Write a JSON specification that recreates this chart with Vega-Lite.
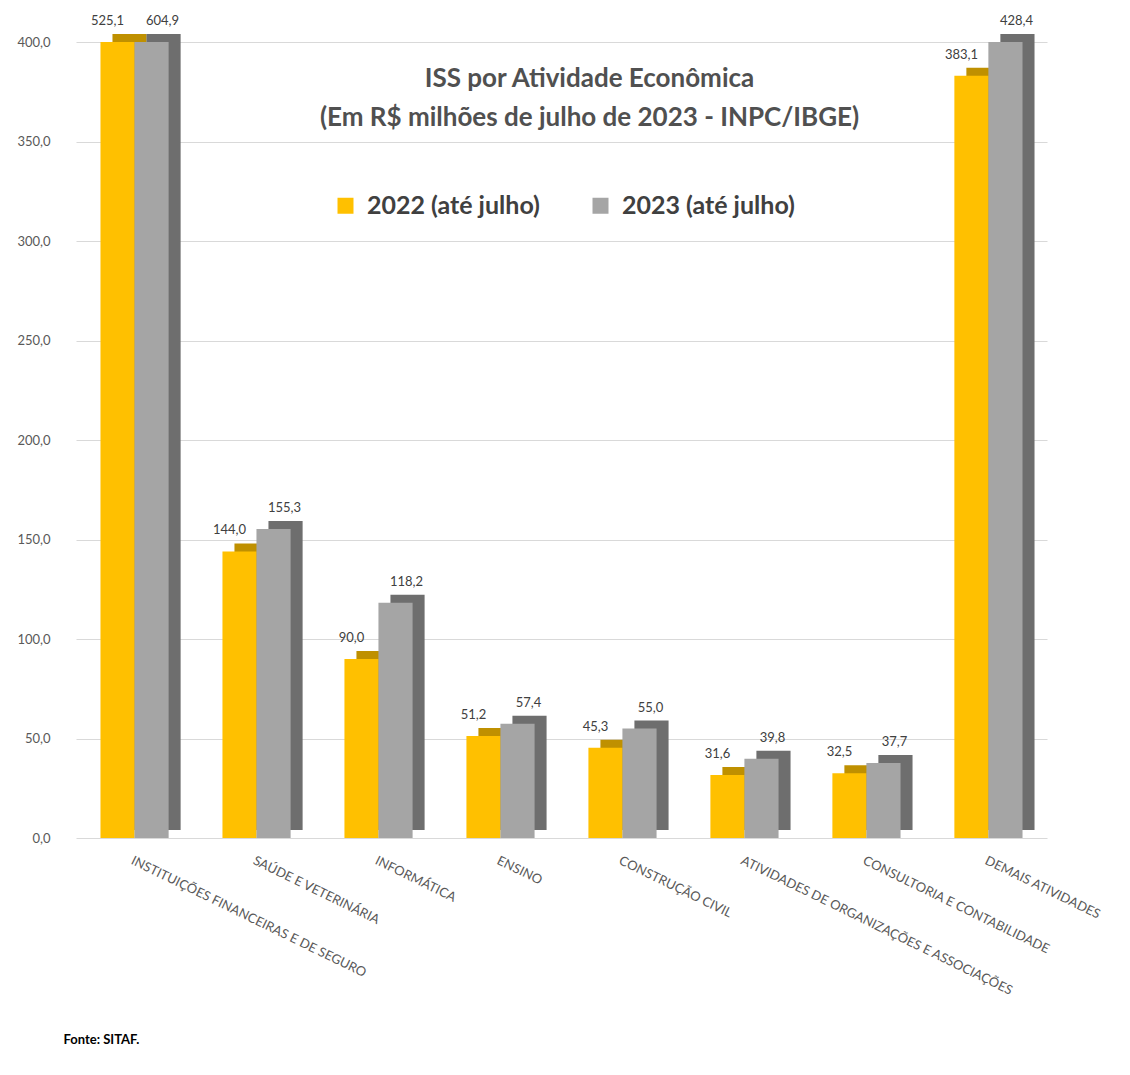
{
  "$schema": "https://vega.github.io/schema/vega-lite/v6.json",
  "autosize": {"type": "none"},
  "padding": {"left": 76, "top": 42, "right": 83, "bottom": 237},
  "width": 971,
  "height": 796,
  "background": "white",
  "config": {
    "locale": {"number": {"decimal": ",", "thousands": ".", "grouping": [3], "currency": ["R$ ", ""]}},
    "font": "Lato",
    "view": {"stroke": null}
  },
  "title": {
    "text": ["ISS por Atividade Econômica", "(Em R$ milhões de julho de 2023 - INPC/IBGE)"],
    "orient": "top",
    "anchor": "middle",
    "frame": "group",
    "dx": 28,
    "offset": -116,
    "fontSize": 26,
    "lineHeight": 39,
    "font": "Lato",
    "fontWeight": "bold",
    "color": "#505050"
  },
  "data": {
    "values": [
      {"atividade": "INSTITUIÇÕES FINANCEIRAS E DE SEGURO", "ano": "2022 (até julho)", "valor": 525.1},
      {"atividade": "INSTITUIÇÕES FINANCEIRAS E DE SEGURO", "ano": "2023 (até julho)", "valor": 604.9},
      {"atividade": "SAÚDE E VETERINÁRIA", "ano": "2022 (até julho)", "valor": 144.0},
      {"atividade": "SAÚDE E VETERINÁRIA", "ano": "2023 (até julho)", "valor": 155.3},
      {"atividade": "INFORMÁTICA", "ano": "2022 (até julho)", "valor": 90.0},
      {"atividade": "INFORMÁTICA", "ano": "2023 (até julho)", "valor": 118.2},
      {"atividade": "ENSINO", "ano": "2022 (até julho)", "valor": 51.2},
      {"atividade": "ENSINO", "ano": "2023 (até julho)", "valor": 57.4},
      {"atividade": "CONSTRUÇÃO CIVIL", "ano": "2022 (até julho)", "valor": 45.3},
      {"atividade": "CONSTRUÇÃO CIVIL", "ano": "2023 (até julho)", "valor": 55.0},
      {"atividade": "ATIVIDADES DE ORGANIZAÇÕES E ASSOCIAÇÕES", "ano": "2022 (até julho)", "valor": 31.6},
      {"atividade": "ATIVIDADES DE ORGANIZAÇÕES E ASSOCIAÇÕES", "ano": "2023 (até julho)", "valor": 39.8},
      {"atividade": "CONSULTORIA E CONTABILIDADE", "ano": "2022 (até julho)", "valor": 32.5},
      {"atividade": "CONSULTORIA E CONTABILIDADE", "ano": "2023 (até julho)", "valor": 37.7},
      {"atividade": "DEMAIS ATIVIDADES", "ano": "2022 (até julho)", "valor": 383.1},
      {"atividade": "DEMAIS ATIVIDADES", "ano": "2023 (até julho)", "valor": 428.4}
    ]
  },
  "encoding": {
    "x": {
      "field": "atividade",
      "type": "nominal",
      "sort": null,
      "scale": {"paddingInner": 0.44, "paddingOuter": 0.2},
      "axis": {
        "title": "Fonte: SITAF.",
        "titleAnchor": "start",
        "titleAlign": "left",
        "titleBaseline": "top",
        "titleX": -13,
        "titleY": 195,
        "titleFontSize": 13,
        "titleFontWeight": "bold",
        "titleColor": "#000000",
        "titleFont": "Lato",
        "labelAngle": 26,
        "labelAlign": "left",
        "labelBaseline": "top",
        "labelPadding": 16,
        "labelDx": -6,
        "labelFontSize": 13,
        "labelColor": "#595959",
        "labelLimit": 500,
        "labelOverlap": false,
        "domain": false,
        "ticks": false
      }
    },
    "y": {
      "field": "valor",
      "type": "quantitative",
      "scale": {"domain": [0, 400], "clamp": true, "nice": false},
      "axis": {
        "title": null,
        "values": [0, 50, 100, 150, 200, 250, 300, 350, 400],
        "format": ".1f",
        "labelFontSize": 13,
        "labelColor": "#595959",
        "labelPadding": 26,
        "domain": false,
        "ticks": false,
        "gridColor": "#d9d9d9",
        "gridWidth": 1
      }
    }
  },
  "layer": [
    {
      "transform": [{"filter": "datum.ano === '2022 (até julho)'"}],
      "mark": {"type": "bar", "color": "#BF9000", "width": {"band": 0.5}, "xOffset": -5, "x2Offset": -5, "yOffset": -8, "y2Offset": -8, "clip": false}
    },
    {
      "transform": [{"filter": "datum.ano === '2023 (até julho)'"}],
      "mark": {"type": "bar", "color": "#6E6E6E", "width": {"band": 0.5}, "xOffset": 29, "x2Offset": 29, "yOffset": -8, "y2Offset": -8, "clip": false}
    },
    {
      "transform": [{"filter": "datum.ano === '2022 (até julho)'"}],
      "mark": {"type": "bar", "width": {"band": 0.5}, "xOffset": -17, "x2Offset": -17},
      "encoding": {
        "color": {
          "field": "ano",
          "type": "nominal",
          "scale": {"domain": ["2022 (até julho)", "2023 (até julho)"], "range": ["#FFC000", "#A5A5A5"]},
          "legend": {
            "title": null,
            "orient": "none",
            "legendX": 257,
            "legendY": 151,
            "direction": "horizontal",
            "symbolType": "square",
            "symbolSize": 256,
            "symbolStrokeWidth": 0,
            "labelFontSize": 25,
            "labelFont": "Lato",
            "labelFontWeight": "bold",
            "labelColor": "#404040",
            "labelOffset": 9,
            "labelLimit": 400,
            "columnPadding": 48
          }
        }
      }
    },
    {
      "transform": [{"filter": "datum.ano === '2023 (até julho)'"}],
      "mark": {"type": "bar", "width": {"band": 0.5}, "xOffset": 17, "x2Offset": 17},
      "encoding": {
        "color": {"field": "ano", "type": "nominal"}
      }
    },
    {
      "transform": [{"filter": "datum.ano === '2022 (até julho)'"}],
      "mark": {"type": "text", "baseline": "bottom", "dy": -14, "dx": -27, "fontSize": 13, "color": "#404040"},
      "encoding": {"text": {"field": "valor", "type": "quantitative", "format": ".1f"}}
    },
    {
      "transform": [{"filter": "datum.ano === '2023 (até julho)'"}],
      "mark": {"type": "text", "baseline": "bottom", "dy": -14, "dx": 28, "fontSize": 13, "color": "#404040"},
      "encoding": {"text": {"field": "valor", "type": "quantitative", "format": ".1f"}}
    }
  ]
}
